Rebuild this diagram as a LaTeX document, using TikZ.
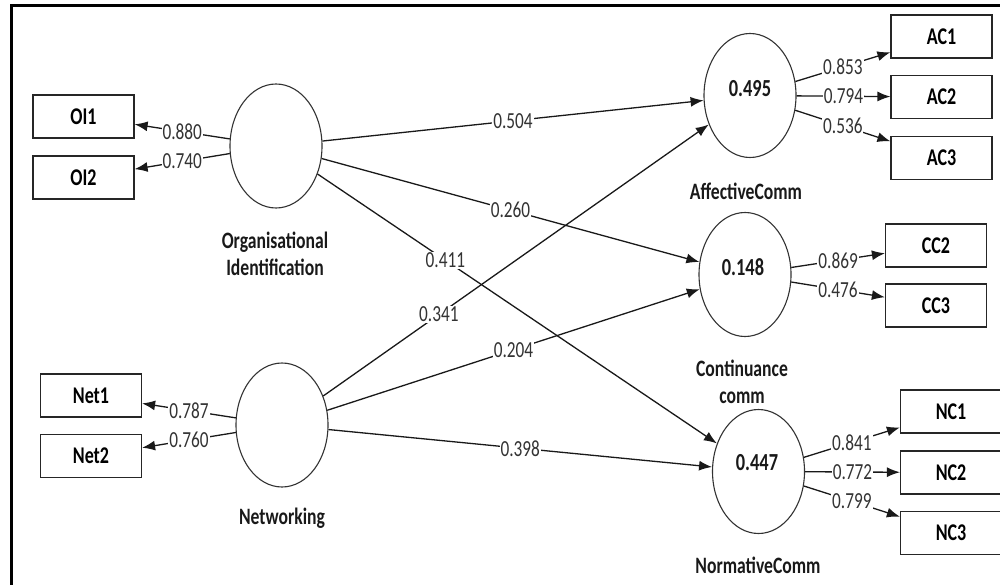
\documentclass[tikz,border=0pt]{standalone}
\usepackage{fontspec}
\setmainfont{Carlito}[FakeStretch=0.75]
\usetikzlibrary{shapes.geometric,arrows.meta}
\begin{document}
\begin{tikzpicture}[x=1pt,y=-1pt,
  lv/.style={draw=black!80, line width=1.1pt, ellipse, minimum width=92pt, minimum height=124pt, inner sep=0pt},
  ind/.style={draw=black!85, line width=1.2pt, rectangle, minimum width=101pt, minimum height=43pt, inner sep=0pt, font=\fontsize{24}{26}\selectfont\bfseries},
  arr/.style={line width=1.3pt, draw=black!90, -{Latex[length=13pt,width=10pt]}},
  lab/.style={fill=white, inner sep=1pt, font=\fontsize{23}{25}\selectfont, text=black!80},
  lvname/.style={font=\fontsize{23.5}{27}\selectfont\bfseries, align=center, text=black!90},
  rsq/.style={font=\fontsize{24.5}{26}\selectfont\bfseries, text=black!90}
]
\useasboundingbox (0,0) rectangle (1000,585);
\fill[white] (0,0) rectangle (1000,585);
\draw[line width=3.3pt] (11.7,585) -- (11.7,5.7) -- (1000,5.7);

% latent variables
\node[lv] (oi) at (276,146) {};
\node[lv] (net) at (282,425) {};
\node[lv] (aff) at (750,95.5) {};
\node[lv] (cont) at (745,274.5) {};
\node[lv] (norm) at (758.5,471.5) {};

\node[rsq] (affr) at (750,89) {0.495};
\node[rsq] (contr) at (743,267.5) {0.148};
\node[rsq] (normr) at (757,463) {0.447};

\node[lvname] (oin) at (275,253.5) {Organisational\\Identification};
\node[lvname] (netn) at (282,518) {Networking};
\node[lvname] (affn) at (746,191) {AffectiveComm};
\node[lvname] (contn) at (742,382) {Continuance\\comm};
\node[lvname] (normn) at (758,565) {NormativeComm};

% indicators
\node[ind] (oi1) at (83.5,116.5) {OI1};
\node[ind] (oi2) at (83.5,177.5) {OI2};
\node[ind] (net1) at (91,395.5) {Net1};
\node[ind] (net2) at (91,456) {Net2};
\node[ind] (ac1) at (941.5,36.5) {AC1};
\node[ind] (ac2) at (941.5,97) {AC2};
\node[ind] (ac3) at (941.5,158) {AC3};
\node[ind] (cc2) at (936,245.5) {CC2};
\node[ind] (cc3) at (936,305.5) {CC3};
\node[ind] (nc1) at (951,411.5) {NC1};
\node[ind] (nc2) at (951,472.5) {NC2};
\node[ind] (nc3) at (951,533) {NC3};

% structural paths
\draw[arr] (oi) -- node[lab]{0.504} (aff);
\draw[arr] (oi) -- node[lab]{0.260} (cont);
\draw[arr] (oi) -- node[lab,pos=0.32]{0.411} (norm);
\draw[arr] (net) -- node[lab,pos=0.3]{0.341} (aff);
\draw[arr] (net) -- node[lab]{0.204} (cont);
\draw[arr] (net) -- node[lab]{0.398} (norm);

% loadings
\draw[arr] (oi) -- node[lab]{0.880} (oi1);
\draw[arr] (oi) -- node[lab]{0.740} (oi2);
\draw[arr] (net) -- node[lab]{0.787} (net1);
\draw[arr] (net) -- node[lab]{0.760} (net2);
\draw[arr] (aff) -- node[lab]{0.853} (ac1);
\draw[arr] (aff) -- node[lab]{0.794} (ac2);
\draw[arr] (aff) -- node[lab]{0.536} (ac3);
\draw[arr] (cont) -- node[lab]{0.869} (cc2);
\draw[arr] (cont) -- node[lab]{0.476} (cc3);
\draw[arr] (norm) -- node[lab]{0.841} (nc1);
\draw[arr] (norm) -- node[lab]{0.772} (nc2);
\draw[arr] (norm) -- node[lab]{0.799} (nc3);
\end{tikzpicture}
\end{document}
